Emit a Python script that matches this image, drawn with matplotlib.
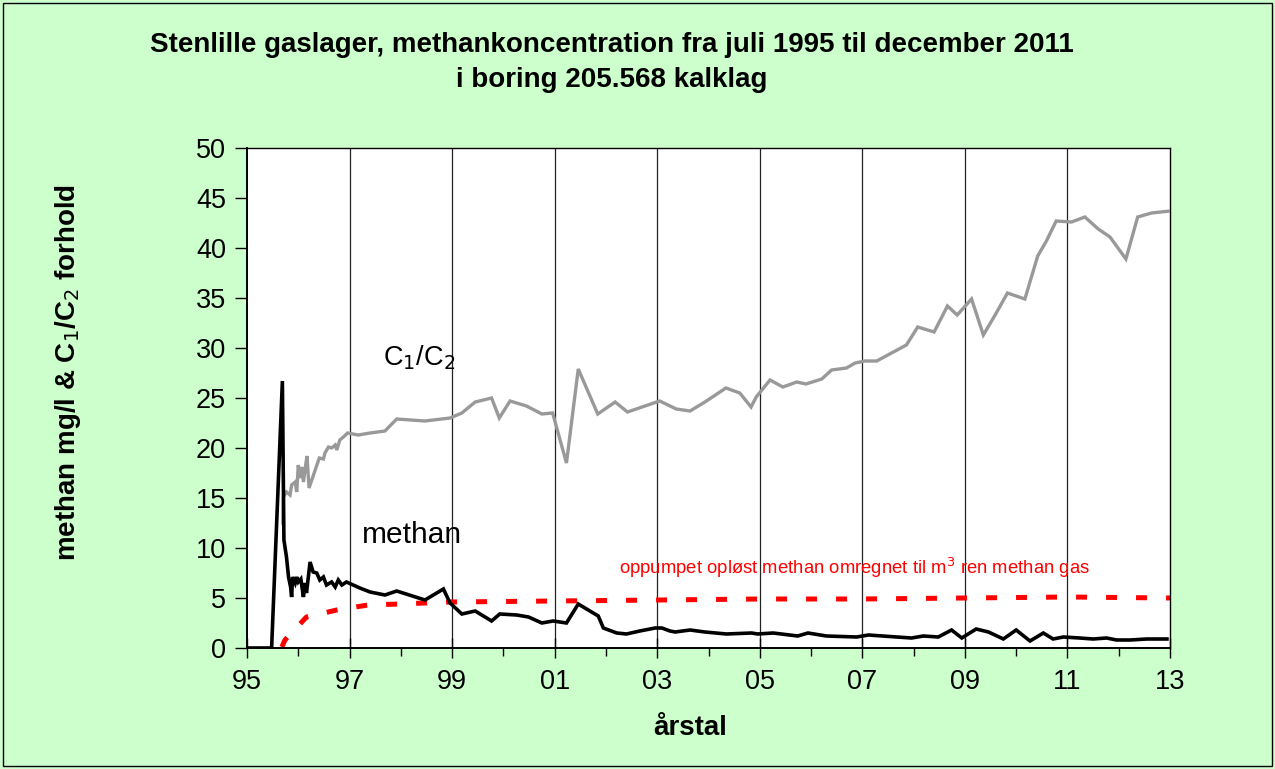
import matplotlib
matplotlib.use("Agg")
import matplotlib.pyplot as plt
from matplotlib.patches import Rectangle
from matplotlib.ticker import MultipleLocator, FixedLocator

plt.rcParams['font.family'] = ['Liberation Sans', 'DejaVu Sans']

# ---- data (x in decimal years) ----
methan_x = [1995.00, 1995.48, 1995.69, 1995.72, 1995.77, 1995.81, 1995.85, 1995.87, 1995.89,
            1995.94, 1995.97, 1996.00, 1996.05, 1996.10, 1996.13, 1996.16, 1996.23, 1996.29,
            1996.36, 1996.42, 1996.49, 1996.55, 1996.65, 1996.72, 1996.78, 1996.85, 1996.94,
            1997.20, 1997.40, 1997.69, 1997.92, 1998.47, 1998.83, 1998.96, 1999.19, 1999.45,
            1999.77, 1999.93, 2000.26, 2000.49, 2000.75, 2000.97, 2001.23, 2001.46, 2001.85,
            2001.95, 2002.21, 2002.40, 2002.66, 2002.96, 2003.09, 2003.25, 2003.35, 2003.64,
            2003.93, 2004.35, 2004.84, 2004.96, 2005.26, 2005.74, 2005.94, 2006.30, 2006.89,
            2007.12, 2007.67, 2007.96, 2008.19, 2008.48, 2008.74, 2008.94, 2009.22, 2009.46,
            2009.75, 2010.00, 2010.27, 2010.53, 2010.72, 2010.92, 2011.24, 2011.50, 2011.76,
            2011.96, 2012.22, 2012.55, 2012.94]
methan_y = [0.0, 0.0, 26.7, 10.8, 9.1, 7.1, 6.1, 5.1, 7.1,
            6.5, 7.1, 6.6, 6.9, 5.1, 6.5, 5.5, 8.6, 7.6,
            7.5, 6.8, 7.1, 6.3, 6.6, 6.1, 6.8, 6.3, 6.6,
            6.0, 5.6, 5.3, 5.7, 4.8, 5.9, 4.5, 3.4, 3.7,
            2.7, 3.4, 3.3, 3.1, 2.5, 2.7, 2.5, 4.4, 3.2,
            2.0, 1.5, 1.4, 1.7, 2.0, 2.0, 1.7, 1.6, 1.8,
            1.6, 1.4, 1.5, 1.4, 1.5, 1.2, 1.5, 1.2, 1.1,
            1.3, 1.1, 1.0, 1.2, 1.1, 1.8, 1.0, 1.9, 1.6,
            0.9, 1.8, 0.7, 1.5, 0.9, 1.1, 1.0, 0.9, 1.0,
            0.8, 0.8, 0.9, 0.9]

ratio_x = [1995.70, 1995.71, 1995.77, 1995.84, 1995.87, 1995.94, 1995.97, 1996.00, 1996.03,
           1996.07, 1996.10, 1996.15, 1996.17, 1996.21, 1996.33, 1996.41, 1996.49, 1996.52,
           1996.59, 1996.65, 1996.72, 1996.75, 1996.81, 1996.88, 1996.96, 1997.17, 1997.40,
           1997.69, 1997.92, 1998.47, 1998.96, 1999.19, 1999.45, 1999.77, 1999.92, 2000.13,
           2000.45, 2000.75, 2000.96, 2001.23, 2001.46, 2001.84, 2002.18, 2002.42, 2002.99,
           2003.05, 2003.37, 2003.64, 2003.93, 2004.34, 2004.61, 2004.83, 2004.93, 2005.20,
           2005.45, 2005.72, 2005.90, 2006.21, 2006.40, 2006.69, 2006.86, 2007.05, 2007.28,
           2007.57, 2007.86, 2008.08, 2008.40, 2008.66, 2008.85, 2009.13, 2009.36, 2009.59,
           2009.83, 2010.17, 2010.42, 2010.59, 2010.78, 2011.08, 2011.34, 2011.60, 2011.83,
           2012.14, 2012.37, 2012.64, 2013.00]
ratio_y = [12.5, 15.1, 15.6, 15.3, 16.3, 16.6, 15.6, 18.3, 17.0,
           18.1, 16.6, 18.5, 19.2, 16.0, 17.8, 19.0, 18.9, 19.5,
           20.1, 20.0, 20.3, 19.8, 20.8, 21.1, 21.5, 21.3, 21.5,
           21.7, 22.9, 22.7, 23.0, 23.5, 24.6, 25.0, 23.0, 24.7,
           24.2, 23.4, 23.5, 18.5, 27.9, 23.4, 24.6, 23.6, 24.6,
           24.7, 23.9, 23.7, 24.6, 26.0, 25.5, 24.1, 25.1, 26.8,
           26.1, 26.6, 26.4, 26.9, 27.8, 28.0, 28.5, 28.7, 28.7,
           29.5, 30.3, 32.1, 31.6, 34.2, 33.3, 34.9, 31.3, 33.3,
           35.5, 34.9, 39.2, 40.7, 42.7, 42.6, 43.1, 41.9, 41.1,
           38.9, 43.1, 43.5, 43.7]

pumped_x = [1995.68, 1995.74, 1996.16, 1996.75, 1997.36, 1997.98, 1998.96, 2000.99,
            2003.05, 2005.00, 2006.95, 2009.00, 2011.01, 2013.00]
pumped_y = [0.1, 0.8, 3.1, 3.8, 4.3, 4.4, 4.6, 4.7,
            4.8, 4.9, 4.9, 5.0, 5.1, 5.0]

xtick_years = [1995, 1997, 1999, 2001, 2003, 2005, 2007, 2009, 2011, 2013]
xtick_labels = ['95', '97', '99', '01', '03', '05', '07', '09', '11', '13']

# ---- figure ----
W, H = 1275, 769
fig = plt.figure(figsize=(W / 100, H / 100), dpi=100, facecolor='#CCFFCC')
fig.patches.append(Rectangle((3 / W, 3 / H), 1 - 6 / W, 1 - 6 / H, transform=fig.transFigure,
                             fill=False, edgecolor='black', linewidth=1.0, zorder=0))

ax = fig.add_axes([247 / W, 1 - 648 / H, (1170 - 247) / W, (648 - 148) / H])
ax.set_facecolor('white')
ax.set_xlim(1995, 2013)
ax.set_ylim(0, 50)

for yr in xtick_years[1:-1]:
    ax.axvline(yr, color='#222222', linewidth=0.9, zorder=1)

ax.plot(pumped_x, pumped_y, color='#FF0000', linewidth=3.6, dashes=(2.2, 3.8),
        dash_capstyle='butt', zorder=2)
ax.plot(ratio_x, ratio_y, color='#999999', linewidth=2.4, zorder=3, solid_joinstyle='miter')
ax.plot(methan_x, methan_y, color='black', linewidth=2.6, zorder=4, solid_joinstyle='miter')

ax.xaxis.set_major_locator(FixedLocator(xtick_years))
ax.set_xticklabels(xtick_labels)
ax.xaxis.set_minor_locator(MultipleLocator(1))
ax.yaxis.set_major_locator(MultipleLocator(5))
ax.tick_params(axis='x', which='major', direction='inout', length=14, width=1, labelsize=19.5, pad=8)
ax.tick_params(axis='x', which='minor', direction='out', length=6, width=1)
ax.tick_params(axis='y', which='major', direction='out', length=9, width=1, labelsize=19.5, pad=6)
for s in ax.spines.values():
    s.set_linewidth(1.0)
    s.set_color('black')
ax.spines['left'].set_linewidth(1.4)
ax.spines['bottom'].set_linewidth(1.4)

fig.text(690 / W, 1 - 728 / H, 'årstal', fontsize=20, fontweight='bold', ha='center', va='center')
fig.text(68 / W, 1 - 372 / H, 'methan mg/l & C$_1$/C$_2$ forhold', fontsize=20,
         fontweight='bold', rotation=90, ha='center', va='center')

fig.text(612 / W, 1 - 45 / H, 'Stenlille gaslager, methankoncentration fra juli 1995 til december 2011',
         ha='center', va='center', fontsize=20, fontweight='bold')
fig.text(612 / W, 1 - 80 / H, 'i boring 205.568 kalklag',
         ha='center', va='center', fontsize=20, fontweight='bold')

ax.text(1997.65, 29.0, 'C$_1$/C$_2$', fontsize=19.5, ha='left', va='center')
ax.text(1997.25, 11.3, 'methan', fontsize=21.5, ha='left', va='center')
ax.text(2002.25, 8.0, 'oppumpet opløst methan omregnet til m$^3$ ren methan gas',
        fontsize=13.3, color='#FF0000', ha='left', va='center')

fig.savefig('out.png', dpi=100, facecolor=fig.get_facecolor())
